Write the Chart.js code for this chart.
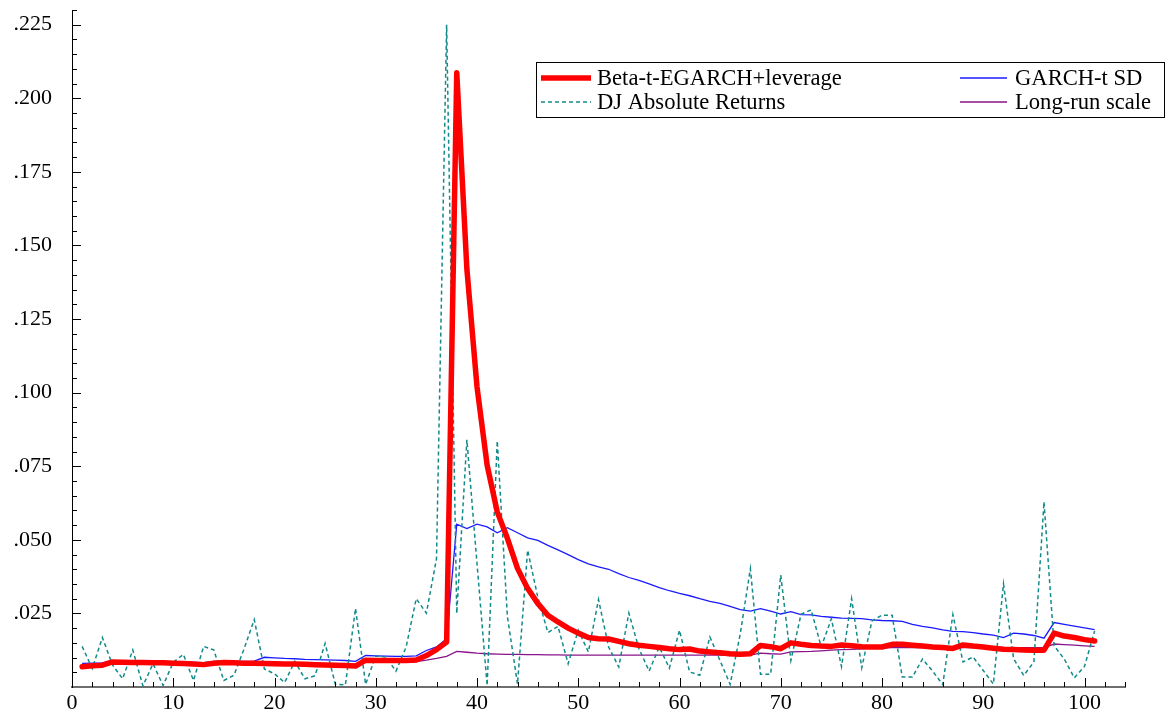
<!DOCTYPE html>
<html>
<head>
<meta charset="utf-8">
<title>Volatility estimates</title>
<script src="https://cdn.jsdelivr.net/npm/chart.js@4.4.1/dist/chart.umd.min.js"></script>
<style>
  html, body { margin: 0; padding: 0; background: #fff; }
  canvas { display: block; }
</style>
</head>
<body>
<canvas id="vol-chart" width="1176" height="717"></canvas>
<script>
// Beta-t-EGARCH with leverage, t = 1..101
const egarchLev = [
  0.0069, 0.0072, 0.0074, 0.0085, 0.0084, 0.0083, 0.0083, 0.0082, 0.0082, 0.0081,
  0.0080, 0.0078, 0.0076, 0.0081, 0.0083, 0.0082, 0.0081, 0.0081, 0.0080, 0.0079,
  0.0078, 0.0078, 0.0077, 0.0076, 0.0075, 0.0074, 0.0073, 0.0071, 0.0091, 0.0090,
  0.0090, 0.0090, 0.0090, 0.0092, 0.0107, 0.0127, 0.0153, 0.2087, 0.1420, 0.1020,
  0.0754, 0.0595, 0.0505, 0.0403, 0.0335, 0.0284, 0.0244, 0.0221, 0.0200, 0.0183,
  0.0168, 0.0164, 0.0163, 0.0155, 0.0147, 0.0142, 0.0138, 0.0134, 0.0130, 0.0127,
  0.0129, 0.0122, 0.0119, 0.0116, 0.0113, 0.0111, 0.0113, 0.0141, 0.0137, 0.0130,
  0.0150, 0.0145, 0.0141, 0.0139, 0.0138, 0.0143, 0.0140, 0.0137, 0.0136, 0.0136,
  0.0145, 0.0145, 0.0142, 0.0139, 0.0136, 0.0134, 0.0131, 0.0143, 0.0139, 0.0136,
  0.0132, 0.0128, 0.0127, 0.0126, 0.0125, 0.0125, 0.0183, 0.0173, 0.0168, 0.0161,
  0.0156
];

// Dow Jones absolute returns
const djAbsReturns = [
  0.0138, 0.0063, 0.0168, 0.0075, 0.0028, 0.0126, 0.0004, 0.0079, 0.0005, 0.0084,
  0.0111, 0.0022, 0.0138, 0.0126, 0.0022, 0.0040, 0.0130, 0.0229, 0.0061, 0.0045,
  0.0015, 0.0087, 0.0028, 0.0038, 0.0148, 0.0010, 0.0007, 0.0267, 0.0009, 0.0105,
  0.0102, 0.0054, 0.0136, 0.0300, 0.0251, 0.0436, 0.2250, 0.0250, 0.0840, 0.0420,
  0.0005, 0.0836, 0.0240, 0.0010, 0.0465, 0.0306, 0.0185, 0.0206, 0.0079, 0.0193,
  0.0119, 0.0297, 0.0136, 0.0068, 0.0251, 0.0130, 0.0054, 0.0136, 0.0064, 0.0193,
  0.0051, 0.0040, 0.0170, 0.0090, 0.0009, 0.0180, 0.0402, 0.0043, 0.0043, 0.0380,
  0.0090, 0.0247, 0.0262, 0.0136, 0.0232, 0.0069, 0.0300, 0.0065, 0.0224, 0.0244,
  0.0244, 0.0034, 0.0034, 0.0095, 0.0054, 0.0008, 0.0246, 0.0085, 0.0102, 0.0056,
  0.0010, 0.0350, 0.0096, 0.0039, 0.0085, 0.0629, 0.0140, 0.0095, 0.0031, 0.0070,
  0.0190
];

// GARCH-t conditional standard deviation
const garchSd = [
  0.0080, 0.0081, 0.0082, 0.0089, 0.0088, 0.0087, 0.0088, 0.0087, 0.0087, 0.0086,
  0.0085, 0.0084, 0.0083, 0.0087, 0.0088, 0.0087, 0.0087, 0.0088, 0.0101, 0.0099,
  0.0097, 0.0096, 0.0094, 0.0093, 0.0092, 0.0091, 0.0090, 0.0087, 0.0107, 0.0106,
  0.0105, 0.0104, 0.0104, 0.0106, 0.0124, 0.0136, 0.0164, 0.0553, 0.0538, 0.0553,
  0.0544, 0.0524, 0.0541, 0.0524, 0.0507, 0.0498, 0.0481, 0.0466, 0.0450, 0.0433,
  0.0418, 0.0408, 0.0400, 0.0385, 0.0372, 0.0362, 0.0350, 0.0338, 0.0327, 0.0318,
  0.0310, 0.0300, 0.0291, 0.0284, 0.0274, 0.0263, 0.0258, 0.0266, 0.0258, 0.0248,
  0.0256, 0.0246, 0.0245, 0.0240, 0.0237, 0.0234, 0.0233, 0.0232, 0.0228, 0.0226,
  0.0225, 0.0223, 0.0213, 0.0206, 0.0201, 0.0194, 0.0189, 0.0188, 0.0185, 0.0180,
  0.0176, 0.0168, 0.0183, 0.0180, 0.0175, 0.0166, 0.0219, 0.0213, 0.0207, 0.0201,
  0.0195
];

// long-run scale component
const longRunScale = [
  0.0074, 0.0076, 0.0077, 0.0080, 0.0080, 0.0080, 0.0080, 0.0080, 0.0079, 0.0079,
  0.0079, 0.0078, 0.0078, 0.0079, 0.0080, 0.0080, 0.0080, 0.0080, 0.0080, 0.0080,
  0.0079, 0.0079, 0.0079, 0.0078, 0.0078, 0.0078, 0.0077, 0.0077, 0.0084, 0.0085,
  0.0085, 0.0085, 0.0085, 0.0086, 0.0091, 0.0097, 0.0104, 0.0121, 0.0118, 0.0115,
  0.0113, 0.0112, 0.0111, 0.0111, 0.0110, 0.0110, 0.0109, 0.0109, 0.0108, 0.0108,
  0.0108, 0.0108, 0.0108, 0.0108, 0.0108, 0.0108, 0.0108, 0.0108, 0.0108, 0.0108,
  0.0108, 0.0108, 0.0108, 0.0108, 0.0107, 0.0107, 0.0108, 0.0115, 0.0113, 0.0112,
  0.0119, 0.0120, 0.0121, 0.0123, 0.0125, 0.0127, 0.0128, 0.0130, 0.0131, 0.0132,
  0.0134, 0.0134, 0.0134, 0.0134, 0.0134, 0.0133, 0.0132, 0.0134, 0.0134, 0.0134,
  0.0133, 0.0132, 0.0133, 0.0134, 0.0134, 0.0134, 0.0146, 0.0144, 0.0142, 0.0140,
  0.0138
];

const xTickLabels = [0, 10, 20, 30, 40, 50, 60, 70, 80, 90, 100];
const yTickLabels = [0.025, 0.050, 0.075, 0.100, 0.125, 0.150, 0.175, 0.200, 0.225];

const seriesNames = ['Beta-t-EGARCH+leverage', 'DJ Absolute Returns', 'GARCH-t SD', 'Long-run scale'];

const FONT = '"Liberation Serif", "Times New Roman", serif';

const toPoints = arr => arr.map((v, i) => ({ x: i + 1, y: v }));

// small tick marks pointing into the plot, like the original econometrics plot
const innerTicks = {
  id: 'innerTicks',
  afterDatasetsDraw(chart) {
    const { ctx, chartArea, scales: { x, y } } = chart;
    ctx.save();
    ctx.strokeStyle = '#000';
    ctx.lineWidth = 1;
    ctx.beginPath();
    for (let v = 0; v <= x.max; v += 2) {
      const px = Math.round(x.getPixelForValue(v)) + 0.5;
      const len = v % 10 === 0 ? 9 : 5;
      ctx.moveTo(px, chartArea.bottom);
      ctx.lineTo(px, chartArea.bottom - len);
    }
    for (let k = 1; k * 0.005 <= y.max; k++) {
      const py = Math.round(y.getPixelForValue(k * 0.005)) + 0.5;
      const len = k % 5 === 0 ? 9 : 5;
      ctx.moveTo(chartArea.left, py);
      ctx.lineTo(chartArea.left + len, py);
    }
    ctx.stroke();
    ctx.restore();
  }
};

// boxed two-column legend in the upper right
const boxLegend = {
  id: 'boxLegend',
  afterDraw(chart) {
    const { ctx } = chart;
    const box = { left: 536.5, top: 62.5, right: 1164.5, bottom: 117.5 };
    const rows = [78, 102];
    const cols = [{ x0: 541, x1: 591, tx: 597 }, { x0: 960, x1: 1007, tx: 1015 }];
    // dataset order: 0 red, 1 teal, 2 blue, 3 purple
    const layout = [
      { ds: 0, col: 0, row: 0 },
      { ds: 2, col: 1, row: 0 },
      { ds: 1, col: 0, row: 1 },
      { ds: 3, col: 1, row: 1 }
    ];
    ctx.save();
    ctx.fillStyle = '#fff';
    ctx.fillRect(box.left, box.top, box.right - box.left, box.bottom - box.top);
    ctx.strokeStyle = '#000';
    ctx.lineWidth = 1;
    ctx.strokeRect(box.left, box.top, box.right - box.left, box.bottom - box.top);
    ctx.font = '22.6px ' + FONT;
    ctx.textBaseline = 'middle';
    ctx.textAlign = 'left';
    layout.forEach(item => {
      const ds = chart.data.datasets[item.ds];
      const c = cols[item.col];
      const yy = rows[item.row];
      ctx.save();
      ctx.strokeStyle = ds.borderColor;
      ctx.lineWidth = ds.borderWidth;
      ctx.setLineDash(ds.borderDash || []);
      ctx.beginPath();
      ctx.moveTo(c.x0, yy);
      ctx.lineTo(c.x1, yy);
      ctx.stroke();
      ctx.restore();
      ctx.fillStyle = '#000';
      ctx.fillText(ds.label, c.tx, yy + 1);
    });
    ctx.restore();
  }
};

const ctx = document.getElementById('vol-chart').getContext('2d');
const chart = new Chart(ctx, {
  type: 'line',
  data: {
    datasets: [
      {
        label: seriesNames[0],
        data: toPoints(egarchLev),
        borderColor: '#ff0000',
        borderWidth: 5.5,
        borderJoinStyle: 'round',
        borderCapStyle: 'round'
      },
      {
        label: seriesNames[1],
        data: toPoints(djAbsReturns),
        borderColor: '#138a8a',
        borderWidth: 1.5,
        borderDash: [4, 3]
      },
      {
        label: seriesNames[2],
        data: toPoints(garchSd),
        borderColor: '#1a1aff',
        borderWidth: 1.3
      },
      {
        label: seriesNames[3],
        data: toPoints(longRunScale),
        borderColor: '#8a138a',
        borderWidth: 1.3
      }
    ]
  },
  options: {
    responsive: false,
    animation: false,
    events: [],
    elements: { point: { radius: 0 }, line: { tension: 0 } },
    layout: { padding: { top: 10, right: 51, left: 0, bottom: 0 } },
    plugins: { legend: { display: false }, tooltip: { enabled: false } },
    scales: {
      x: {
        type: 'linear',
        min: 0,
        max: 104,
        afterBuildTicks: s => { s.ticks = xTickLabels.map(v => ({ value: v })); },
        afterFit: s => { s.height = 30; s.paddingLeft = 0; s.paddingRight = 0; },
        grid: { display: false, drawTicks: false },
        border: { display: true, color: '#6e6e6e', width: 2 },
        ticks: {
          autoSkip: false,
          maxRotation: 0,
          padding: 3,
          color: '#000',
          font: { family: FONT, size: 22 }
        }
      },
      y: {
        min: 0,
        max: 0.23,
        afterBuildTicks: s => { s.ticks = yTickLabels.map(v => ({ value: v })); },
        afterFit: s => { s.width = 72; s.paddingTop = 0; s.paddingBottom = 0; },
        grid: { display: false, drawTicks: false },
        border: { display: true, color: '#000', width: 1 },
        ticks: {
          padding: 20,
          color: '#000',
          font: { family: FONT, size: 22 },
          callback: v => v.toFixed(3).slice(1)
        }
      }
    }
  },
  plugins: [innerTicks, boxLegend]
});
</script>
</body>
</html>
